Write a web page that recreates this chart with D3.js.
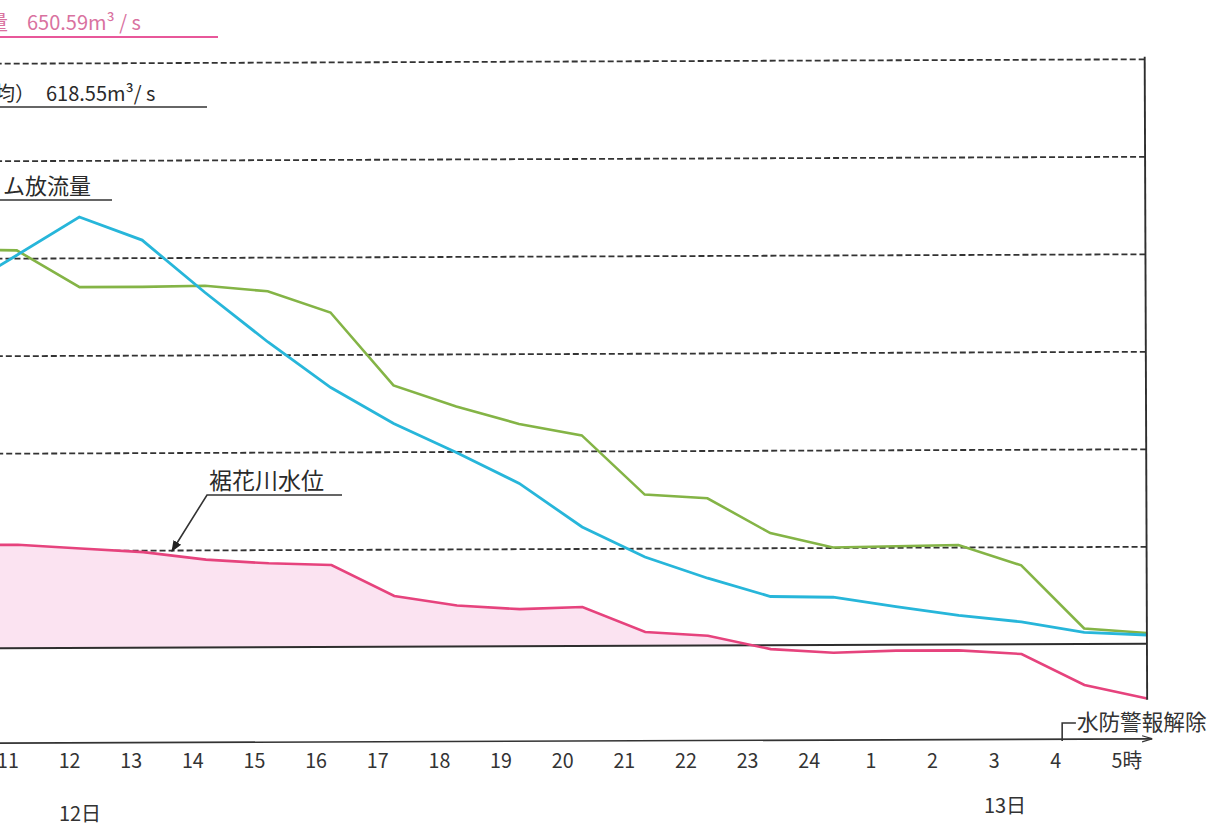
<!DOCTYPE html>
<html>
<head>
<meta charset="utf-8">
<script src="https://cdn.jsdelivr.net/npm/d3@7"></script>
<style>
  body { margin: 0; background: #fff; }
  svg { display: block; font-family: "Noto Sans CJK JP", "Noto Sans", sans-serif; }
</style>
</head>
<body>
<div id="chart"></div>
<script>
// hours counted from 0:00 of the 12th (25 = 1時 of the 13th)
const hours = [10, 11, 12, 13, 14, 15, 16, 17, 18, 19, 20, 21, 22, 23, 24, 25, 26, 27, 28, 29];
// ダム流入量 (m3/s)
const inflow = [464, 503, 542, 518, 464, 413, 366, 329, 299, 267, 222, 191, 169, 150, 149, 139, 130, 123, 112, 109];
// ダム放流量 (m3/s)
const outflow = [509, 508, 470, 470, 471, 465, 443, 368, 346, 328, 316, 255, 251, 215, 200, 201, 202, 181, 116, 111];
// 裾花川水位 (m)
const riverLevel = [1.03, 1.03, 1.01, 0.99, 0.95, 0.93, 0.92, 0.76, 0.71, 0.69, 0.70, 0.57, 0.55, 0.48, 0.46, 0.47, 0.47, 0.45, 0.29, 0.22];
const baseLevel = 0.5;

const gridFlows = [200, 300, 400, 500, 600, 700];
const tickHours = [11, 12, 13, 14, 15, 16, 17, 18, 19, 20, 21, 22, 23, 24, 25, 26, 27, 28, 29];
const tickLabels = ["11", "12", "13", "14", "15", "16", "17", "18", "19", "20", "21", "22", "23", "24", "1", "2", "3", "4", "5"];
const warningClearHour = 28;

const width = 1213, height = 830;

const svg = d3.select("#chart")
  .append("svg")
    .attr("width", width)
    .attr("height", height);

// scales
const x = d3.scaleLinear().domain([12, 29]).range([80, 1146]);
const yFlow = d3.scaleLinear().domain([0, 700]).range([743.5, 61]);
const yLevel = d3.scaleLinear().domain([0, 3.5]).range([743.5, 61]);

const defs = svg.append("defs");
defs.append("clipPath").attr("id", "above-base")
  .append("rect")
    .attr("x", -100).attr("y", 0)
    .attr("width", 1400).attr("height", yLevel(baseLevel));
defs.append("marker")
    .attr("id", "arrow")
    .attr("viewBox", "0 -5 10 10")
    .attr("refX", 9).attr("refY", 0)
    .attr("markerWidth", 7).attr("markerHeight", 7)
    .attr("orient", "auto")
  .append("path")
    .attr("d", "M0,-4L10,0L0,4Z")
    .attr("fill", "#222");
defs.append("marker")
    .attr("id", "axis-arrow")
    .attr("viewBox", "0 -5 10 10")
    .attr("refX", 10).attr("refY", 0)
    .attr("markerWidth", 6).attr("markerHeight", 6)
    .attr("orient", "auto")
  .append("path")
    .attr("d", "M0,-3L10,0L0,3")
    .attr("fill", "none")
    .attr("stroke", "#333")
    .attr("stroke-width", 1.2);

// the scanned sheet is a little tilted
const plot = svg.append("g").attr("transform", "rotate(-0.22 573 400)");

// dashed grid
plot.append("g")
    .attr("class", "grid")
    .attr("transform", `translate(${x(29)},0)`)
  .call(d3.axisLeft(yFlow).tickValues(gridFlows).tickSize(x(29) + 10).tickFormat(""))
  .call(g => g.select(".domain").remove())
  .call(g => g.selectAll("line")
    .attr("stroke", "#333")
    .attr("stroke-width", 1.8)
    .attr("stroke-dasharray", "6,3"));

// river level fill + base line
const area = d3.area()
  .x((d, i) => x(hours[i]))
  .y0(yLevel(baseLevel))
  .y1(d => yLevel(d));
plot.append("path")
    .datum(riverLevel)
    .attr("d", area)
    .attr("fill", "#fbe3f1")
    .attr("clip-path", "url(#above-base)");

plot.append("line")
    .attr("x1", -10).attr("x2", x(29))
    .attr("y1", yLevel(baseLevel)).attr("y2", yLevel(baseLevel))
    .attr("stroke", "#2e2e2e")
    .attr("stroke-width", 1.9);

const line = scale => d3.line().x((d, i) => x(hours[i])).y(d => scale(d));

plot.append("path")
    .datum(outflow)
    .attr("d", line(yFlow))
    .attr("fill", "none")
    .attr("stroke", "#84b446")
    .attr("stroke-width", 2.6);

plot.append("path")
    .datum(inflow)
    .attr("d", line(yFlow))
    .attr("fill", "none")
    .attr("stroke", "#27b6da")
    .attr("stroke-width", 2.8);

plot.append("path")
    .datum(riverLevel)
    .attr("d", line(yLevel))
    .attr("fill", "none")
    .attr("stroke", "#e6437d")
    .attr("stroke-width", 2.6);

// right frame and bottom axis line
plot.append("line")
    .attr("x1", x(29)).attr("x2", x(29))
    .attr("y1", yFlow(700) - 2).attr("y2", 702)
    .attr("stroke", "#2e2e2e")
    .attr("stroke-width", 1.9);

plot.append("line")
    .attr("x1", -10).attr("x2", 1151)
    .attr("y1", 741).attr("y2", 741)
    .attr("stroke", "#333")
    .attr("stroke-width", 1.7)
    .attr("marker-end", "url(#axis-arrow)");

// hour labels (typed a touch narrower than the plotted grid)
const axisFrame = svg.append("g")
    .attr("transform", "translate(-9.6,741) scale(0.983,1)");
axisFrame.append("g")
  .call(d3.axisBottom(x).tickValues(tickHours).tickFormat((d, i) => tickLabels[i]).tickSize(0).tickPadding(13))
  .call(g => g.select(".domain").remove())
  .call(g => g.selectAll("text")
    .attr("font-family", "\"Noto Sans CJK JP\", sans-serif")
    .attr("font-size", 20)
    .attr("fill", "#333"))
  .call(g => g.select(".tick:last-of-type text")
    .attr("text-anchor", "start")
    .attr("dx", "-0.3em")
    .text(tickLabels[tickLabels.length - 1] + "時"));

// 水防警報解除 marker
const xw = x(warningClearHour) + 7;
axisFrame.append("path")
    .attr("d", `M${xw},0V-18H${xw + 14}`)
    .attr("fill", "none")
    .attr("stroke", "#333")
    .attr("stroke-width", 1.6);
axisFrame.append("text")
    .attr("x", xw + 15).attr("y", -11)
    .attr("font-size", 22)
    .attr("fill", "#333")
    .text("水防警報解除");

// day labels
svg.append("text")
    .attr("x", 80).attr("y", 821)
    .attr("text-anchor", "middle")
    .attr("font-size", 20)
    .attr("fill", "#333")
    .text("12日");
svg.append("text")
    .attr("x", 1005).attr("y", 813)
    .attr("text-anchor", "middle")
    .attr("font-size", 20)
    .attr("fill", "#333")
    .text("13日");

// top captions (left part cut off on the sheet)
const cap1 = svg.append("text").attr("y", 30).attr("font-size", 20).attr("fill", "#d9729f");
cap1.append("tspan").attr("x", -12).text("量");
cap1.append("tspan").attr("x", 27).text("650.59m³ / s");
svg.append("line")
    .attr("x1", 0).attr("x2", 218).attr("y1", 37).attr("y2", 37)
    .attr("stroke", "#e8579a").attr("stroke-width", 2);

const cap2 = svg.append("text").attr("y", 101).attr("font-size", 20).attr("fill", "#2a2a2a");
cap2.append("tspan").attr("x", -5).text("均）");
cap2.append("tspan").attr("x", 46).text("618.55m³/ s");
svg.append("line")
    .attr("x1", 0).attr("x2", 207).attr("y1", 107).attr("y2", 107)
    .attr("stroke", "#333").attr("stroke-width", 1.6);

svg.append("text")
    .attr("x", 3).attr("y", 194)
    .attr("font-size", 22)
    .attr("fill", "#2a2a2a")
    .text("ム放流量");
svg.append("line")
    .attr("x1", 0).attr("x2", 112).attr("y1", 200).attr("y2", 200)
    .attr("stroke", "#333").attr("stroke-width", 1.6);

// 裾花川水位 call-out
svg.append("text")
    .attr("x", 209).attr("y", 489)
    .attr("font-size", 23)
    .attr("fill", "#2a2a2a")
    .text("裾花川水位");
svg.append("path")
    .attr("d", "M342,495H207L172,551")
    .attr("fill", "none")
    .attr("stroke", "#333")
    .attr("stroke-width", 1.6)
    .attr("marker-end", "url(#arrow)");
</script>
</body>
</html>
